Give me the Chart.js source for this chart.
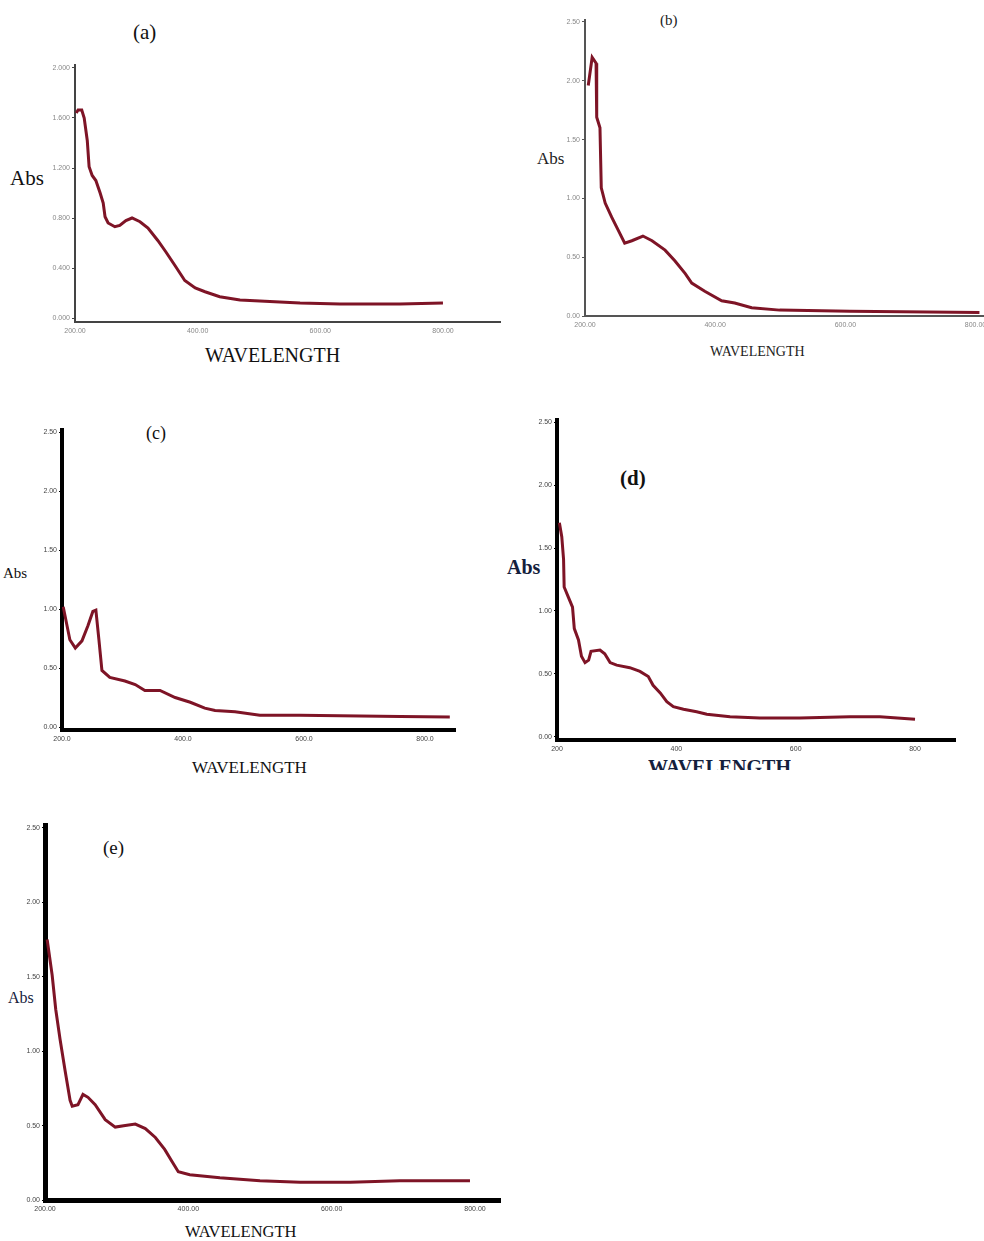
<!DOCTYPE html>
<html>
<head>
<meta charset="utf-8">
<script src="https://cdn.jsdelivr.net/npm/chart.js@4.4.1/dist/chart.umd.min.js"></script>
<style>
  html, body { margin: 0; padding: 0; background: #ffffff; }
  body { position: relative; width: 984px; height: 1241px; overflow: hidden; }
  canvas { position: absolute; }
  .lbl { position: absolute; font-family: "Liberation Serif", "DejaVu Serif", serif; color: #111; white-space: nowrap; }
</style>
</head>
<body>
<script>
// ---------- DATA ----------
// Panel (a)
const aWavelength = [202, 205, 211, 215, 220, 223, 228, 234, 241, 246, 249, 254, 265, 273, 283, 293, 306, 319, 335, 348, 363, 379, 396, 412, 436, 469, 534, 567, 632, 730, 800];
const aAbs        = [1.64, 1.664, 1.664, 1.60, 1.42, 1.21, 1.14, 1.10, 1.00, 0.92, 0.81, 0.76, 0.73, 0.74, 0.78, 0.80, 0.77, 0.72, 0.62, 0.53, 0.42, 0.30, 0.24, 0.21, 0.17, 0.144, 0.128, 0.12, 0.112, 0.112, 0.12];
const aXTicks = [200, 400, 600, 800];
const aYTicks = [0, 0.4, 0.8, 1.2, 1.6, 2.0];

// Panel (b)
const bWavelength = [205, 211, 217, 218, 223, 225, 231, 241, 251, 261, 272, 289, 303, 323, 338, 354, 364, 384, 410, 430, 456, 499, 607, 806];
const bAbs        = [1.96, 2.20, 2.15, 1.69, 1.60, 1.09, 0.96, 0.84, 0.73, 0.62, 0.64, 0.68, 0.64, 0.56, 0.47, 0.36, 0.28, 0.21, 0.13, 0.11, 0.07, 0.05, 0.04, 0.03];
const bXTicks = [200, 400, 600, 800];
const bYTicks = [0, 0.5, 1.0, 1.5, 2.0, 2.5];

// Panel (c)
const cWavelength = [202, 213, 222, 233, 243, 251, 256, 261, 266, 279, 304, 321, 337, 362, 387, 412, 436, 453, 486, 527, 593, 759, 841];
const cAbs        = [1.02, 0.74, 0.67, 0.73, 0.86, 0.98, 0.99, 0.74, 0.48, 0.42, 0.39, 0.36, 0.31, 0.31, 0.25, 0.21, 0.16, 0.14, 0.13, 0.10, 0.10, 0.09, 0.085];
const cXTicks = [200, 400, 600, 800];
const cYTicks = [0, 0.5, 1.0, 1.5, 2.0, 2.5];

// Panel (d)
const dWavelength = [204, 208, 211, 212, 219, 226, 229, 236, 241, 247, 253, 257, 272, 280, 289, 300, 322, 339, 353, 361, 373, 384, 395, 412, 434, 451, 490, 540, 607, 691, 741, 800];
const dAbs        = [1.70, 1.59, 1.41, 1.19, 1.11, 1.03, 0.86, 0.77, 0.64, 0.59, 0.61, 0.68, 0.69, 0.66, 0.59, 0.57, 0.55, 0.52, 0.48, 0.41, 0.35, 0.28, 0.24, 0.22, 0.20, 0.18, 0.16, 0.15, 0.15, 0.16, 0.16, 0.14];
const dXTicks = [200, 400, 600, 800];
const dYTicks = [0, 0.5, 1.0, 1.5, 2.0, 2.5];

// Panel (e)
const eWavelength = [203, 210, 215, 221, 228, 235, 238, 246, 253, 260, 270, 284, 298, 312, 326, 340, 354, 367, 377, 386, 402, 444, 500, 556, 626, 695, 793];
const eAbs        = [1.75, 1.51, 1.28, 1.08, 0.87, 0.67, 0.63, 0.64, 0.71, 0.69, 0.64, 0.54, 0.49, 0.50, 0.51, 0.48, 0.42, 0.34, 0.26, 0.19, 0.17, 0.15, 0.13, 0.12, 0.12, 0.13, 0.13];
const eXTicks = [200, 400, 600, 800];
const eYTicks = [0, 0.5, 1.0, 1.5, 2.0, 2.5];

// ---------- LAYOUT ----------
const panels = [
  { xs: aWavelength, ys: aAbs, xt: aXTicks, yt: aYTicks, xd: 2, yd: 3,
    xMin: 200, xMax: 893, yMin: -0.032, yMax: 2.024,
    canvas: [20, 55, 490, 290], area: [75, 65, 500, 322],
    axisColor: '#444', axisW: 2, tickColor: '#888', lineW: 3 },
  { xs: bWavelength, ys: bAbs, xt: bXTicks, yt: bYTicks, xd: 2, yd: 2,
    xMin: 200, xMax: 813, yMin: 0, yMax: 2.517,
    canvas: [540, 5, 444, 335], area: [585, 20, 984, 316],
    axisColor: '#555', axisW: 2, tickColor: '#888', lineW: 3 },
  { xs: cWavelength, ys: cAbs, xt: cXTicks, yt: cYTicks, xd: 1, yd: 2,
    xMin: 200, xMax: 849.6, yMin: -0.025, yMax: 2.517,
    canvas: [20, 420, 445, 330], area: [62, 430, 455, 730],
    axisColor: '#000', axisW: 4, tickColor: '#444', lineW: 3 },
  { xs: dWavelength, ys: dAbs, xt: dXTicks, yt: dYTicks, xd: 0, yd: 2,
    xMin: 200, xMax: 867, yMin: -0.024, yMax: 2.516,
    canvas: [515, 410, 450, 345], area: [557, 420, 955, 740],
    axisColor: '#000', axisW: 4, tickColor: '#444', lineW: 3 },
  { xs: eWavelength, ys: eAbs, xt: eXTicks, yt: eYTicks, xd: 2, yd: 2,
    xMin: 200, xMax: 834.9, yMin: 0, yMax: 2.52,
    canvas: [0, 815, 510, 410], area: [45, 825, 500, 1200],
    axisColor: '#000', axisW: 5, tickColor: '#444', lineW: 3 }
];

const texts = [
  // [text, left, centerY, size, bold, color, clipHeight]
  ['(a)', 133, 32, 21, false, '#111'],
  ['Abs', 10, 178, 21, false, '#111'],
  ['WAVELENGTH', 205, 355, 20, false, '#111'],
  ['(b)', 660, 20, 15, false, '#222'],
  ['Abs', 537, 158, 17, false, '#222'],
  ['WAVELENGTH', 710, 352, 14, false, '#222'],
  ['(c)', 146, 433, 18, false, '#111'],
  ['Abs', 3, 573, 15, false, '#111'],
  ['WAVELENGTH', 192, 767, 17, false, '#111'],
  ['(d)', 620, 478, 21, true, '#111'],
  ['Abs', 507, 567, 20, true, '#14203c'],
  ['WAVELENGTH', 648, 767, 20, true, '#14203c', 13],
  ['(e)', 103, 847, 19, false, '#111'],
  ['Abs', 8, 998, 16, false, '#14203c'],
  ['WAVELENGTH', 185, 1232, 16.5, false, '#111']
];

for (const t of texts) {
  const d = document.createElement('div');
  d.className = 'lbl';
  d.textContent = t[0];
  d.style.left = t[1] + 'px';
  d.style.top = (t[2] - t[3] / 2) + 'px';
  d.style.fontSize = t[3] + 'px';
  d.style.lineHeight = t[3] + 'px';
  d.style.fontWeight = t[4] ? 'bold' : 'normal';
  d.style.color = t[5];
  if (t[6]) { d.style.height = t[6] + 'px'; d.style.overflow = 'hidden'; }
  document.body.appendChild(d);
}

panels.forEach((p) => {
  const [L, T, W, H] = p.canvas;
  const [aL, aT, aR, aB] = p.area;
  const yWidth = aL - L, padTop = aT - T, padRight = L + W - aR, xHeight = T + H - aB;
  const cv = document.createElement('canvas');
  cv.width = W; cv.height = H;
  cv.style.left = L + 'px'; cv.style.top = T + 'px';
  cv.style.width = W + 'px'; cv.style.height = H + 'px';
  document.body.appendChild(cv);
  new Chart(cv.getContext('2d'), {
    type: 'line',
    data: {
      datasets: [{
        data: p.xs.map((x, i) => ({ x: x, y: p.ys[i] })),
        borderColor: '#7e1426',
        borderWidth: p.lineW,
        pointRadius: 0,
        tension: 0,
        fill: false
      }]
    },
    options: {
      responsive: false,
      animation: false,
      devicePixelRatio: 1,
      layout: { padding: { left: 0, top: padTop, right: padRight, bottom: 0 } },
      plugins: { legend: { display: false }, tooltip: { enabled: false } },
      scales: {
        x: {
          type: 'linear', min: p.xMin, max: p.xMax,
          grid: { display: false, drawTicks: false },
          border: { display: true, color: p.axisColor, width: p.axisW },
          ticks: { color: p.tickColor, font: { family: 'Liberation Sans', size: 7 }, padding: 5,
                   maxRotation: 0, autoSkip: false,
                   callback: (v) => Number(v).toFixed(p.xd) },
          afterBuildTicks: (s) => { s.ticks = p.xt.map(v => ({ value: v })); },
          afterFit: (s) => { s.height = xHeight; s.paddingLeft = 0; s.paddingRight = 0; }
        },
        y: {
          type: 'linear', min: p.yMin, max: p.yMax,
          grid: { display: true, drawOnChartArea: false, drawTicks: true, tickLength: 3, color: p.axisColor, lineWidth: 1 },
          border: { display: true, color: p.axisColor, width: p.axisW },
          ticks: { color: p.tickColor, font: { family: 'Liberation Sans', size: 7 }, padding: 2,
                   autoSkip: false,
                   callback: (v) => Number(v).toFixed(p.yd) },
          afterBuildTicks: (s) => { s.ticks = p.yt.map(v => ({ value: v })); },
          afterFit: (s) => { s.width = yWidth; s.paddingTop = 0; s.paddingBottom = 0; }
        }
      }
    }
  });
});
</script>
</body>
</html>
